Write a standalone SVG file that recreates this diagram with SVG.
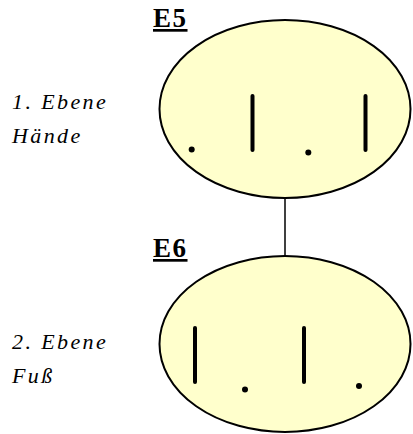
<svg xmlns="http://www.w3.org/2000/svg" width="413" height="434" viewBox="0 0 413 434">
<style>
.node ellipse{fill:#FFFFCC;stroke:#000;stroke-width:2}
.bar{stroke:#000;stroke-width:4;stroke-linecap:round}
.dot{fill:#000}
.title{font-family:"Liberation Serif",serif;font-weight:bold;font-size:27px;text-decoration:underline;letter-spacing:1.5px}
.side{font-family:"Liberation Serif",serif;font-style:italic;font-size:22px;letter-spacing:2.4px}
</style>
<rect width="413" height="434" fill="#fff"/>
<g id="connectors">
<line x1="285" y1="198" x2="285" y2="256" stroke="#000" stroke-width="1.5"/>
</g>
<g id="E5" class="node">
<ellipse cx="285" cy="109" rx="125.5" ry="89"/>
<line class="bar" x1="252.5" y1="96" x2="252.5" y2="150"/>
<line class="bar" x1="365.5" y1="96" x2="365.5" y2="150"/>
<circle class="dot" cx="191.7" cy="149.5" r="3"/>
<circle class="dot" cx="308.3" cy="152.5" r="3"/>
<text class="title" x="153" y="27">E5</text>
</g>
<g id="E6" class="node">
<ellipse cx="285" cy="344" rx="125.5" ry="88"/>
<line class="bar" x1="195" y1="328" x2="195" y2="382"/>
<line class="bar" x1="304" y1="328" x2="304" y2="382"/>
<circle class="dot" cx="245" cy="389.5" r="3"/>
<circle class="dot" cx="359" cy="386" r="3"/>
<text class="title" x="153" y="257">E6</text>
</g>
<g id="labels">
<text class="side" x="12" y="109">1. Ebene</text>
<text class="side" x="12" y="143">Hände</text>
<text class="side" x="12" y="348.5">2. Ebene</text>
<text class="side" x="12" y="383">Fuß</text>
</g>
</svg>
